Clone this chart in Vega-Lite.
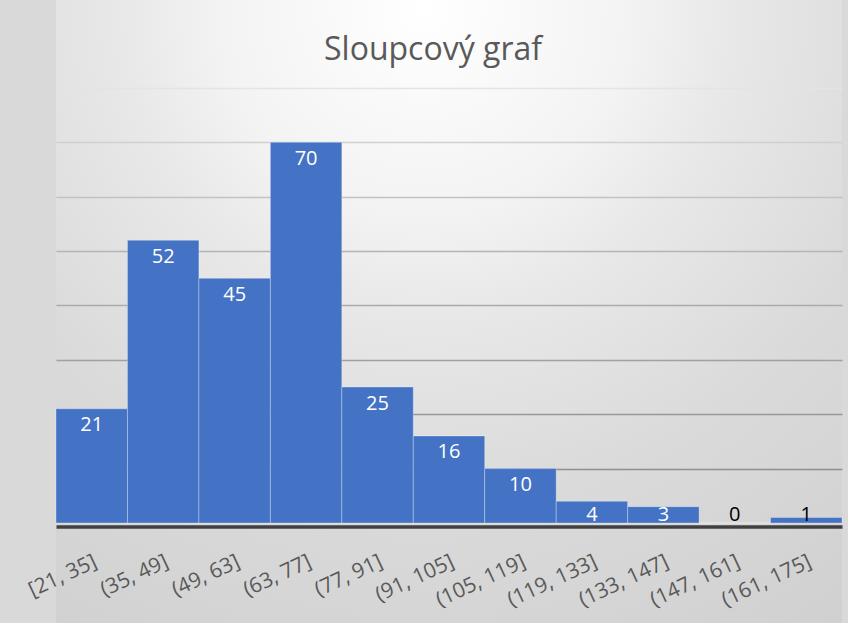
{
  "$schema": "https://vega.github.io/schema/vega-lite/v6.json",
  "width": 786,
  "height": 623,
  "autosize": {"type": "none"},
  "padding": {"left": 56, "top": 0, "right": 6, "bottom": 0},
  "background": "#d9d9d9",
  "view": {
    "stroke": null,
    "fill": {"expr": "{gradient: 'radial', x1: 0.47, y1: 0.115, r1: 0, x2: 0.47, y2: 0.115, r2: 1, stops: [{offset: 0, color: '#ffffff'}, {offset: 0.26, color: '#f3f3f3'}, {offset: 0.39, color: '#e8e8e8'}, {offset: 0.63, color: '#dadada'}, {offset: 0.95, color: '#d0d0d0'}]}"}
  },
  "title": {
    "text": "Sloupcový graf",
    "font": "Open Sans",
    "fontSize": 32,
    "fontWeight": "normal",
    "color": "#595959",
    "anchor": "middle",
    "baseline": "alphabetic",
    "offset": -92,
    "dx": -16
  },
  "data": {
    "values": [
      {"interval": "[21, 35]", "count": 21},
      {"interval": "(35, 49]", "count": 52},
      {"interval": "(49, 63]", "count": 45},
      {"interval": "(63, 77]", "count": 70},
      {"interval": "(77, 91]", "count": 25},
      {"interval": "(91, 105]", "count": 16},
      {"interval": "(105, 119]", "count": 10},
      {"interval": "(119, 133]", "count": 4},
      {"interval": "(133, 147]", "count": 3},
      {"interval": "(147, 161]", "count": 0},
      {"interval": "(161, 175]", "count": 1}
    ]
  },
  "encoding": {
    "x": {
      "field": "interval",
      "type": "nominal",
      "sort": null,
      "scale": {"paddingInner": 0, "paddingOuter": 0},
      "axis": {
        "title": null,
        "orient": "bottom",
        "offset": -96.5,
        "domain": true,
        "domainColor": "#404040",
        "domainWidth": 3.5,
        "ticks": false,
        "grid": false,
        "labelAngle": -25,
        "labelAlign": "right",
        "labelBaseline": "middle",
        "labelPadding": 34,
        "labelOffset": 4,
        "labelFont": "Open Sans",
        "labelFontSize": 21,
        "labelColor": "#595959",
        "labelOverlap": false,
        "labelBound": false,
        "labelFlush": false,
        "zindex": 1
      }
    }
  },
  "layer": [
    {
      "mark": {"type": "bar", "color": "#4472C4", "stroke": "#ffffff", "strokeOpacity": 0.3, "strokeWidth": 1},
      "encoding": {
        "y": {
          "field": "count",
          "type": "quantitative",
          "scale": {"domain": [-18.39, 96.18], "nice": false, "zero": false},
          "axis": {
            "title": null,
            "labels": false,
            "ticks": false,
            "domain": false,
            "grid": true,
            "values": [10, 20, 30, 40, 50, 60, 70, 80],
            "gridWidth": 1.5,
            "gridColor": {
              "condition": [
                {"test": "datum.value >= 80", "value": "#e4e4e4"},
                {"test": "datum.value >= 70", "value": "#d0d0d0"},
                {"test": "datum.value >= 60", "value": "#c2c2c2"},
                {"test": "datum.value >= 50", "value": "#b5b5b5"},
                {"test": "datum.value >= 40", "value": "#ababab"},
                {"test": "datum.value >= 30", "value": "#a1a1a1"},
                {"test": "datum.value >= 20", "value": "#989898"}
              ],
              "value": "#8f8f8f"
            }
          }
        },
        "y2": {"datum": 0}
      }
    },
    {
      "transform": [{"filter": "datum.count >= 5"}],
      "mark": {"type": "text", "font": "Open Sans", "fontSize": 20, "color": "#ffffff", "baseline": "middle", "dy": 16.5},
      "encoding": {
        "y": {"field": "count", "type": "quantitative"},
        "text": {"field": "count", "type": "quantitative"}
      }
    },
    {
      "transform": [{"filter": "datum.count < 5"}],
      "mark": {"type": "text", "font": "Open Sans", "fontSize": 20, "baseline": "middle", "dy": -8},
      "encoding": {
        "y": {"datum": 0, "type": "quantitative"},
        "text": {"field": "count", "type": "quantitative"},
        "color": {"condition": {"test": "datum.count <= 1", "value": "#000000"}, "value": "#ffffff"}
      }
    }
  ]
}
